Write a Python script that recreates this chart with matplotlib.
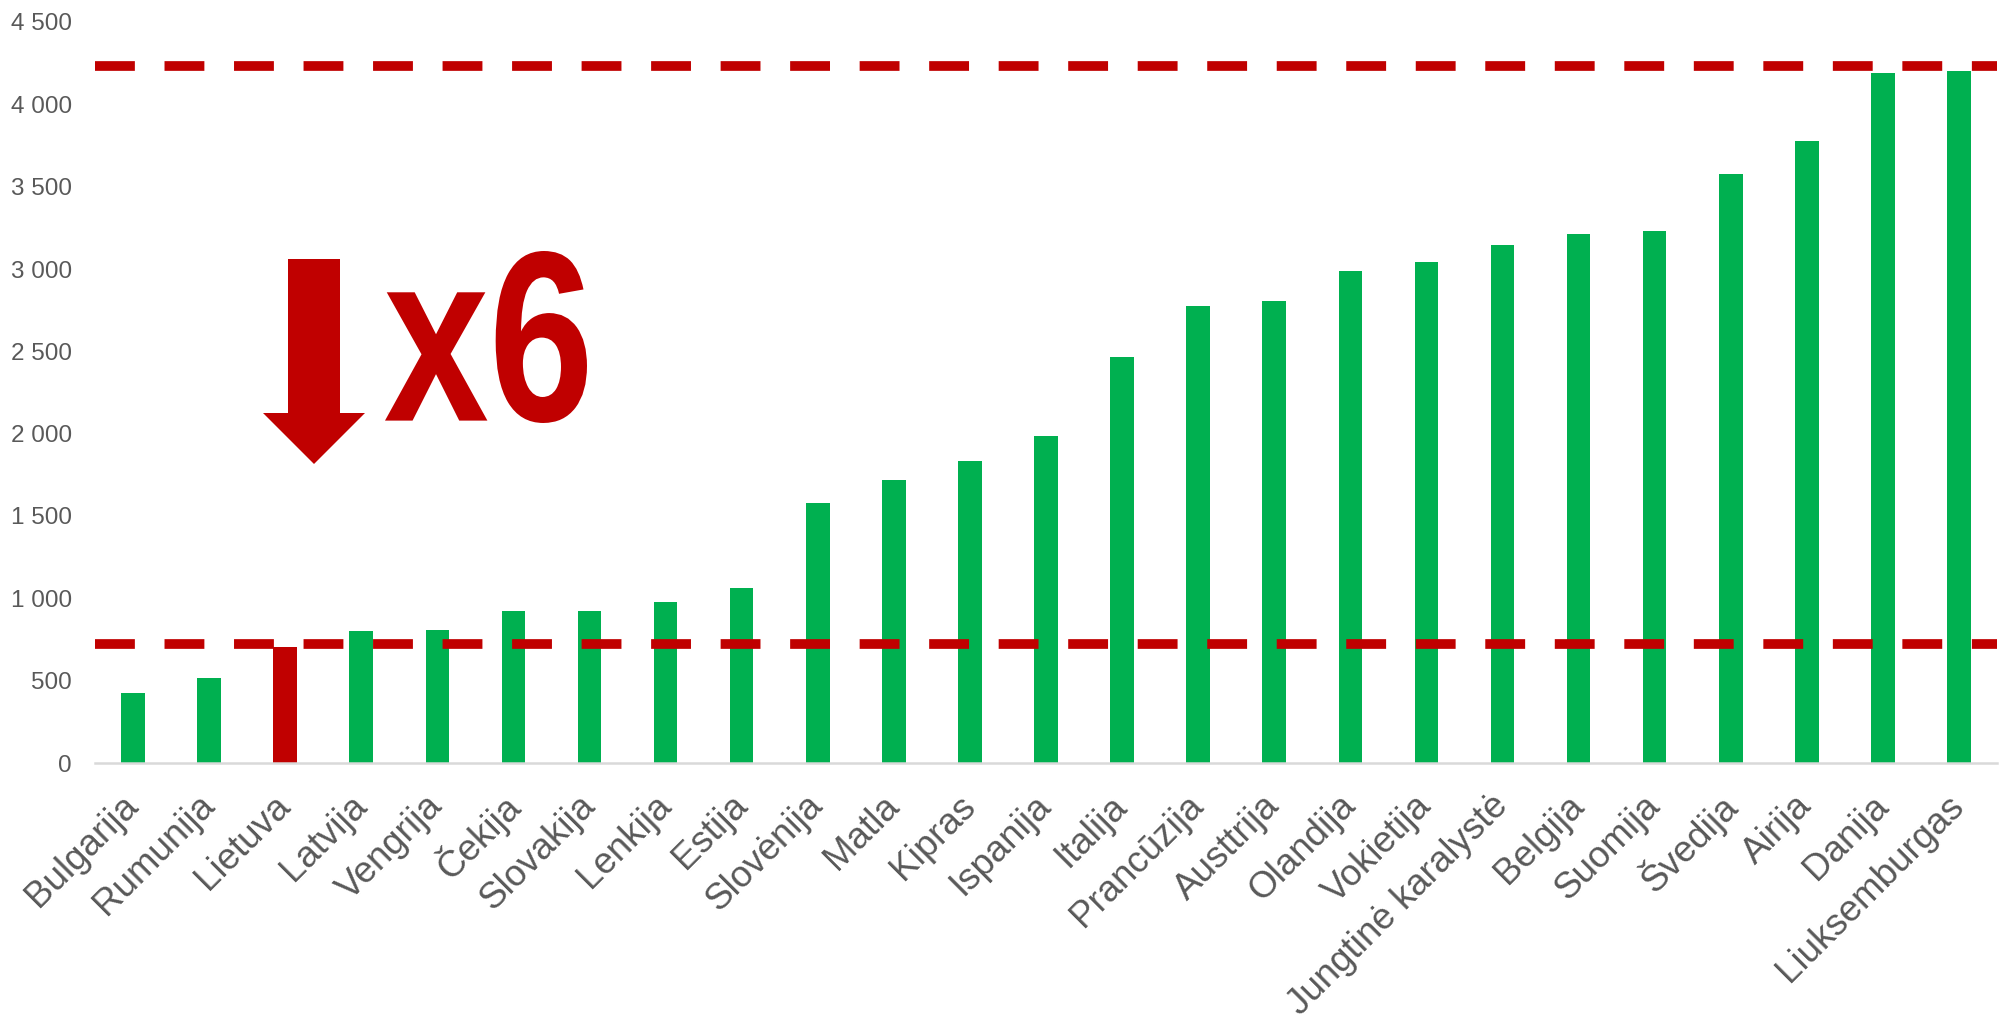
import numpy as np
import matplotlib
matplotlib.use('Agg')
import matplotlib.pyplot as plt
import matplotlib.patches as mpatches
from matplotlib.textpath import TextPath
from matplotlib.font_manager import FontProperties, findfont
from matplotlib.transforms import Affine2D

# data
countries = ['Bulgarija', 'Rumunija', 'Lietuva', 'Latvija', 'Vengrija', 'Čekija',
             'Slovakija', 'Lenkija', 'Estija', 'Slovėnija', 'Matla', 'Kipras',
             'Ispanija', 'Italija', 'Prancūzija', 'Austtrija', 'Olandija', 'Vokietija',
             'Jungtinė karalystė', 'Belgija', 'Suomija', 'Švedija', 'Airija', 'Danija',
             'Liuksemburgas']
values = [428, 517, 703, 802, 806, 922, 926, 976, 1061, 1576, 1716, 1837, 1983,
          2467, 2775, 2805, 2987, 3042, 3146, 3213, 3231, 3577, 3777, 4192, 4204]
highlight = 'Lietuva'
ref_lines = [4230, 722]
yticks = list(range(0, 5000, 500))

GREEN = '#00B050'
RED = '#C00000'
GREY = '#595959'

plt.rcParams['font.family'] = ['Liberation Sans', 'DejaVu Sans']

W, H = 2003, 1021
fig = plt.figure(figsize=(W / 100, H / 100), dpi=100)
ax = fig.add_axes([95 / W, 1 - 763 / H, (1997 - 95) / W, (763 - 22) / H])

x = np.arange(len(countries))
colors = [RED if c == highlight else GREEN for c in countries]
ax.bar(x, values, width=0.31, color=colors, zorder=2)

for v in ref_lines:
    ax.axhline(v, color=RED, lw=7.0, dashes=(4.1, 3.05), zorder=3)

ax.set_xlim(-0.5, len(countries) - 0.5)
ax.set_ylim(0, 4500)
ax.set_yticks(yticks)
ax.set_yticklabels([f'{v:,}'.replace(',', ' ') for v in yticks])
ax.tick_params(axis='y', length=0, pad=16.5, labelsize=17.5, labelcolor=GREY)
ax.set_xticks(x)
ax.set_xticklabels(countries, rotation=45, ha='right', va='center',
                   rotation_mode='anchor')
ax.tick_params(axis='x', length=0, pad=27, labelsize=26.5, labelcolor=GREY)

for s in ['top', 'right', 'left']:
    ax.spines[s].set_visible(False)
ax.spines['bottom'].set_color('#D9D9D9')
ax.spines['bottom'].set_linewidth(1.8)


# big down arrow (pixel positions of the picture -> figure fraction)
def px(xp, yp):
    return (xp / W, 1 - yp / H)


arrow_pts = [px(288, 259), px(340, 259), px(340, 413), px(365, 413),
             px(314, 464), px(263, 413), px(288, 413)]
fig.add_artist(mpatches.Polygon(arrow_pts, closed=True, color=RED, lw=0,
                                transform=fig.transFigure))

# "x6" label, narrow bold font scaled into its box
try:
    fp = FontProperties(family='Liberation Sans Narrow', weight='bold')
    findfont(fp, fallback_to_default=False)
except Exception:
    fp = FontProperties(family='Liberation Sans', weight='bold')
tp = TextPath((0, 0), 'x6', size=100, prop=fp)
ext = tp.get_extents()
x0, y0, x1, y1 = 385, 251, 587, 423
tr = (Affine2D().translate(-ext.x0, -ext.y0)
      .scale((x1 - x0) / ext.width / W, (y1 - y0) / ext.height / H)
      .translate(x0 / W, 1 - y1 / H) + fig.transFigure)
fig.add_artist(mpatches.PathPatch(tp, color=RED, lw=0, transform=tr))

fig.savefig('out.png', dpi=100, facecolor='white')
